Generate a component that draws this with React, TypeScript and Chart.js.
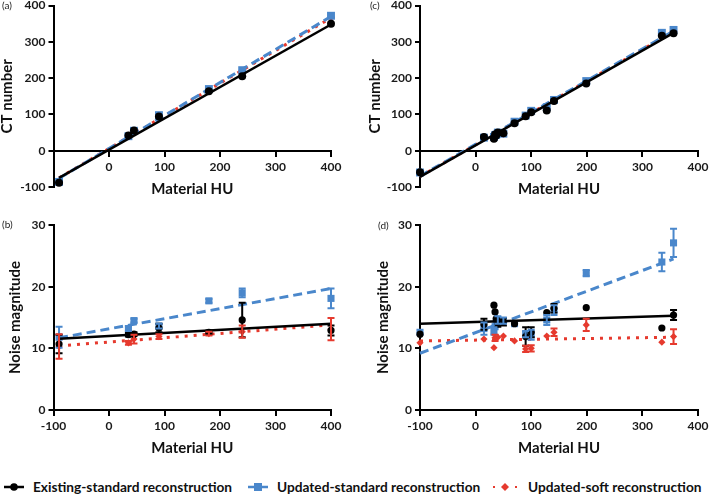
import React, { useEffect, useRef } from "react";
import { Chart, registerables } from "chart.js";

Chart.register(...registerables);
Chart.defaults.font.family = "Lato, 'Open Sans', sans-serif";

const BLACK = "#000000";
const BLUE = "#4a87cb";
const RED = "#e63a2e";

// ---------- Panel (a): CT number, phantom 1 ----------
const aX = [-90, 35, 45, 90, 180, 240, 400];
const aBlack = [-88, 42, 56, 94, 164, 205, 350];
const aBlue = [-86, 40, 55, 98, 170, 222, 372];
const aRed = [-87, 41, 54, 97, 168, 220, 368];
const aFitX = [-90, 400];
const aFitBlack = [-75, 348];
const aFitBlue = [-76, 370];
const aFitRed = [-75, 366];

// ---------- Panel (b): Noise, phantom 1 ----------
const bX = [-90, 35, 45, 90, 180, 240, 400];
const bBlack = [10.7, 12.2, 12.3, 13.3, 12.6, 14.6, 12.9];
const bBlackErr = [1.5, 0.3, 0.3, 0.7, 0.3, 2.8, 0.8];
const bBlue = [11.8, 13.2, 14.5, 13.6, 17.7, 19.0, 18.1];
const bBlueErr = [1.7, 0.4, 0.3, 0.4, 0.3, 0.7, 1.6];
const bRed = [10.3, 10.9, 11.5, 11.9, 12.4, 12.7, 13.1];
const bRedErr = [2.0, 0.3, 0.7, 0.4, 0.3, 1.0, 1.8];
const bFitX = [-90, 400];
const bFitBlack = [11.55, 14.0];
const bFitBlue = [11.7, 19.7];
const bFitRed = [10.4, 13.8];

// ---------- Panel (c): CT number, phantom 2 ----------
const cX = [-100, 15, 33, 35, 37, 40, 50, 70, 90, 100, 128, 141, 199, 335, 356];
const cBlack = [-59, 38, 33, 45, 42, 50, 48, 76, 95, 106, 111, 137, 185, 317, 324];
const cBlue = [-60, 36, 38, 43, 44, 50, 47, 80, 97, 110, 120, 140, 192, 325, 333];
const cRed = [-61, 36, 37, 42, 43, 49, 47, 78, 96, 108, 117, 139, 189, 322, 330];
const cFitX = [-100, 356];
const cFitBlack = [-72, 325];
const cFitBlue = [-70, 330];
const cFitRed = [-71, 328];

// ---------- Panel (d): Noise, phantom 2 ----------
const dX = [-100, 15, 33, 35, 37, 40, 50, 70, 90, 100, 128, 141, 199, 335, 356];
const dBlack = [12.3, 13.9, 17.0, 15.9, 14.8, 14.1, 14.3, 14.0, 11.9, 12.6, 15.8, 16.5, 16.6, 13.3, 15.4];
const dBlackErr = [0, 0.9, 0, 0, 0, 0.6, 0.6, 0, 1.5, 0.8, 0, 0.7, 0, 0, 0.8];
const dBlue = [12.6, 13.2, 12.8, 13.5, 14.0, 14.6, 14.5, 14.0, 12.3, 12.2, 14.6, 16.2, 22.2, 24.0, 27.1];
const dBlueErr = [0, 1.0, 0.6, 0, 0, 0.6, 0.5, 0, 0.5, 0.8, 0.8, 0.8, 0.5, 1.5, 2.3];
const dRed = [10.9, 11.5, 10.1, 11.7, 11.9, 11.8, 12.0, 11.2, 9.9, 10.0, 12.0, 12.6, 13.8, 11.0, 11.9];
const dRedErr = [0, 0, 0, 0.5, 0, 0, 0, 0, 0.5, 0.5, 0, 0.6, 1.0, 0, 1.2];
const dFitX = [-100, 356];
const dFitBlack = [14.0, 15.3];
const dFitBlue = [9.2, 24.5];
const dFitRed = [11.2, 11.8];

const LEGEND_LABELS = [
  "Existing-standard reconstruction",
  "Updated-standard reconstruction",
  "Updated-soft reconstruction",
];

const errorBarPlugin = {
  id: "errorBars",
  afterDatasetsDraw(chart: any) {
    const ctx = chart.ctx;
    const xs = chart.scales.x;
    const ys = chart.scales.y;
    chart.data.datasets.forEach((ds: any) => {
      const errs = ds.errors;
      if (!errs) return;
      ctx.save();
      ctx.strokeStyle = ds.borderColor;
      ctx.lineWidth = 2;
      ds.data.forEach((pt: any, j: number) => {
        const e = errs[j];
        if (!e) return;
        const x = xs.getPixelForValue(pt.x);
        const y1 = ys.getPixelForValue(pt.y + e);
        const y2 = ys.getPixelForValue(pt.y - e);
        ctx.beginPath();
        ctx.moveTo(x, y1);
        ctx.lineTo(x, y2);
        ctx.moveTo(x - 3.5, y1);
        ctx.lineTo(x + 3.5, y1);
        ctx.moveTo(x - 3.5, y2);
        ctx.lineTo(x + 3.5, y2);
        ctx.stroke();
      });
      ctx.restore();
    });
  },
};

type Spec = {
  left: number; top: number; w: number; h: number;
  padTop: number; padRight: number; padBottom: number;
  yW: number; ytPad: number;
  yMin: number; yMax: number; yStep: number; yTitle: string;
  hideXMin: boolean; big: boolean;
  x: number[]; black: number[]; blue: number[]; red: number[];
  blackErr?: number[]; blueErr?: number[]; redErr?: number[];
  fitX: number[]; fitBlack: number[]; fitBlue: number[]; fitRed: number[];
};

const pts = (xs: number[], ys: number[]) => xs.map((x, i) => ({ x, y: ys[i] }));

function buildConfig(p: Spec): any {
  const rC = p.big ? 4 : 3.6;
  const rS = p.big ? 5.6 : 5;
  const rD = p.big ? 4 : 3.6;
  const datasets: any[] = [
    { data: pts(p.x, p.black), errors: p.blackErr, pointStyle: "circle", pointRadius: rC, backgroundColor: BLACK, borderColor: BLACK, borderWidth: 0, showLine: false, clip: false },
    { data: pts(p.fitX, p.fitBlack), borderColor: BLACK, borderWidth: 2.5, pointRadius: 0, showLine: true, clip: false },
    { data: pts(p.x, p.blue), errors: p.blueErr, pointStyle: "rect", pointRadius: rS, backgroundColor: BLUE, borderColor: BLUE, borderWidth: 0, showLine: false, clip: false },
    { data: pts(p.fitX, p.fitBlue), borderColor: BLUE, borderWidth: 3, borderDash: [9, 5], pointRadius: 0, showLine: true, clip: false },
    { data: pts(p.x, p.red), errors: p.redErr, pointStyle: "rectRot", pointRadius: rD, backgroundColor: RED, borderColor: RED, borderWidth: 0, showLine: false, clip: false },
    { data: pts(p.fitX, p.fitRed), borderColor: RED, borderWidth: 3, borderDash: [3, 6], pointRadius: 0, showLine: true, clip: false },
  ];
  const gridOpts = { display: true, drawOnChartArea: false, drawTicks: true, tickLength: 5, color: "#000", lineWidth: 2 };
  const borderOpts = { display: true, color: "#000", width: 2 };
  const tickFont = { size: 12, weight: "bold" as const };
  return {
    type: "scatter",
    data: { datasets },
    plugins: [errorBarPlugin],
    options: {
      responsive: false,
      animation: false,
      events: [],
      layout: { padding: { left: 0, top: p.padTop, right: p.padRight, bottom: p.padBottom } },
      plugins: { legend: { display: false }, tooltip: { enabled: false } },
      scales: {
        x: {
          type: "linear",
          position: { y: 0 },
          min: -100,
          max: 400,
          ticks: {
            stepSize: 100,
            color: "#1a1a1a",
            font: tickFont,
            padding: 4,
            maxRotation: 0,
            autoSkip: false,
            callback: (v: any) => (p.hideXMin && v === -100 ? "" : String(v)),
          },
          grid: gridOpts,
          border: borderOpts,
          title: { display: true, text: "Material HU", color: "#111", font: { size: 15, weight: "bold" }, padding: 0 },
          afterFit: (s: any) => { s.height = 47.5; s.paddingLeft = 0; s.paddingRight = 0; },
        },
        y: {
          type: "linear",
          position: "left",
          min: p.yMin,
          max: p.yMax,
          ticks: { stepSize: p.yStep, color: "#1a1a1a", font: tickFont, padding: 3 },
          grid: gridOpts,
          border: borderOpts,
          title: { display: true, text: p.yTitle, color: "#111", font: { size: 15, weight: "bold", lineHeight: 1 }, padding: { top: p.ytPad, bottom: 0 } },
          afterFit: (s: any) => { s.width = p.yW; s.paddingTop = 0; s.paddingBottom = 0; },
        },
      },
    },
  };
}

const SPECS: Spec[] = [
  { left: 0, top: 0, w: 350, h: 205, padTop: 2, padRight: 19, padBottom: 18, yW: 53.5, ytPad: 0,
    yMin: -100, yMax: 400, yStep: 100, yTitle: "CT number", hideXMin: true, big: true,
    x: aX, black: aBlack, blue: aBlue, red: aRed, fitX: aFitX, fitBlack: aFitBlack, fitBlue: aFitBlue, fitRed: aFitRed },
  { left: 0, top: 205, w: 350, h: 260, padTop: 20, padRight: 19, padBottom: 55, yW: 53.5, ytPad: 7.5,
    yMin: 0, yMax: 30, yStep: 10, yTitle: "Noise magnitude", hideXMin: false, big: false,
    x: bX, black: bBlack, blue: bBlue, red: bRed, blackErr: bBlackErr, blueErr: bBlueErr, redErr: bRedErr,
    fitX: bFitX, fitBlack: bFitBlack, fitBlue: bFitBlue, fitRed: bFitRed },
  { left: 350, top: 0, w: 359, h: 205, padTop: 2, padRight: 11, padBottom: 18, yW: 70, ytPad: 17.5,
    yMin: -100, yMax: 400, yStep: 100, yTitle: "CT number", hideXMin: true, big: true,
    x: cX, black: cBlack, blue: cBlue, red: cRed, fitX: cFitX, fitBlack: cFitBlack, fitBlue: cFitBlue, fitRed: cFitRed },
  { left: 350, top: 205, w: 359, h: 260, padTop: 20, padRight: 11, padBottom: 55, yW: 70, ytPad: 25.5,
    yMin: 0, yMax: 30, yStep: 10, yTitle: "Noise magnitude", hideXMin: false, big: false,
    x: dX, black: dBlack, blue: dBlue, red: dRed, blackErr: dBlackErr, blueErr: dBlueErr, redErr: dRedErr,
    fitX: dFitX, fitBlack: dFitBlack, fitBlue: dFitBlue, fitRed: dFitRed },
];

const PANEL_LABELS = [
  { t: "(a)", x: 2, y: 5 },
  { t: "(b)", x: 2, y: 224 },
  { t: "(c)", x: 370, y: 5 },
  { t: "(d)", x: 378, y: 225 },
];

function Panel({ spec }: { spec: Spec }) {
  const ref = useRef<HTMLCanvasElement | null>(null);
  useEffect(() => {
    const chart = new Chart(ref.current as HTMLCanvasElement, buildConfig(spec));
    return () => chart.destroy();
  }, []);
  return (
    <div style={{ position: "absolute", left: spec.left, top: spec.top, width: spec.w, height: spec.h }}>
      <canvas ref={ref} width={spec.w} height={spec.h} style={{ display: "block" }} />
    </div>
  );
}

function Marker({ kind }: { kind: number }) {
  if (kind === 0)
    return (
      <svg width="22" height="12" style={{ display: "block" }}>
        <line x1="1" y1="6" x2="21" y2="6" stroke={BLACK} strokeWidth="2.5" />
        <circle cx="11" cy="6" r="3.8" fill={BLACK} />
      </svg>
    );
  if (kind === 1)
    return (
      <svg width="22" height="12" style={{ display: "block" }}>
        <line x1="1" y1="6" x2="21" y2="6" stroke={BLUE} strokeWidth="2.5" />
        <rect x="7" y="2" width="8" height="8" fill={BLUE} />
      </svg>
    );
  return (
    <svg width="26" height="12" style={{ display: "block" }}>
      <rect x="1" y="5" width="2" height="2" fill={RED} />
      <rect x="23" y="5" width="2" height="2" fill={RED} />
      <polygon points="13,2 17,6 13,10 9,6" fill={RED} />
    </svg>
  );
}

const LEGEND_POS = [
  { mx: 3, tx: 33 },
  { mx: 247, tx: 277 },
  { mx: 492, tx: 528 },
];

export default function App() {
  return (
    <div style={{ position: "fixed", left: 0, top: 0, width: 709, height: 495, background: "#fff", overflow: "hidden" }}>
      {SPECS.map((s, i) => (
        <Panel key={i} spec={s} />
      ))}
      {PANEL_LABELS.map((l, i) => (
        <div key={i} style={{ position: "absolute", left: l.x, top: l.y - 7, fontFamily: "Lato, sans-serif", fontSize: 10, lineHeight: "14px", color: "#222" }}>
          {l.t}
        </div>
      ))}
      {LEGEND_LABELS.map((t, i) => (
        <React.Fragment key={i}>
          <div style={{ position: "absolute", left: LEGEND_POS[i].mx, top: 481 }}>
            <Marker kind={i} />
          </div>
          <div style={{ position: "absolute", left: LEGEND_POS[i].tx, top: 478, fontFamily: "Lato, sans-serif", fontWeight: 700, fontSize: 13.7, lineHeight: "18px", color: "#111", whiteSpace: "nowrap" }}>
            {t}
          </div>
        </React.Fragment>
      ))}
    </div>
  );
}
